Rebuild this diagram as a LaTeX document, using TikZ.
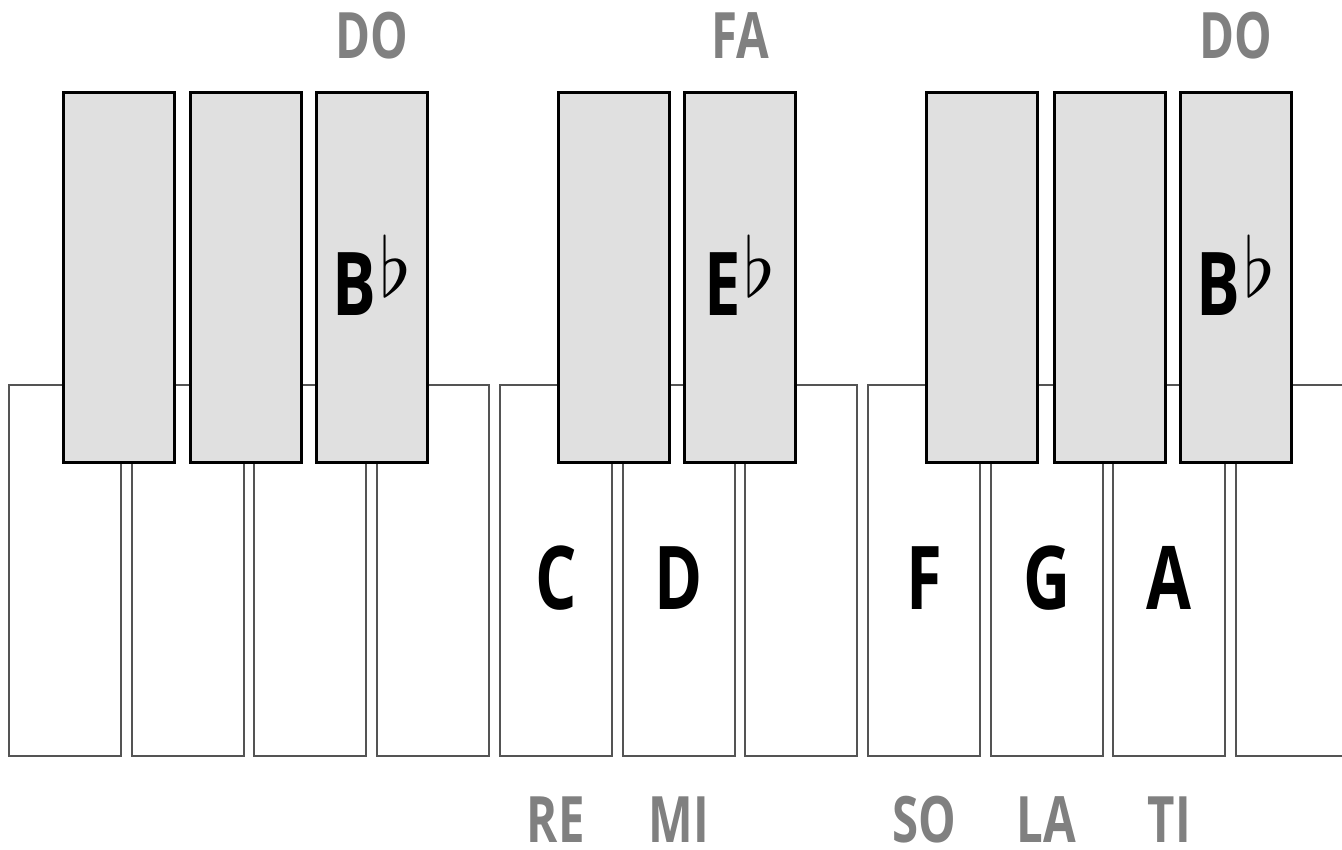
\documentclass[tikz,border=0pt]{standalone}
\usepackage{graphicx}
\usepackage{fontspec}
\setmainfont{Open Sans}[FakeStretch=0.74]
\usetikzlibrary{positioning}

\newcommand{\flatsign}{\hspace{3pt}\raisebox{19pt}{\scalebox{8.2}{\fontsize{10}{10}\selectfont$\flat$}}}

\begin{document}
\begin{tikzpicture}[
    x=1pt, y=-1pt,
    whitekey/.style={draw=black!67, line width=2pt, fill=white, rectangle, anchor=north west,
        minimum width=112pt, minimum height=371pt, inner sep=0pt},
    blackkey/.style={draw=black, line width=3pt, fill=black!12, rectangle, anchor=north west,
        minimum width=111pt, minimum height=370pt, inner sep=0pt},
    letter/.style={font=\fontsize{88}{88}\selectfont\bfseries, anchor=base, inner sep=0pt},
    solfa/.style={font=\fontsize{64}{64}\selectfont\bfseries, text=black!50, anchor=base, inner sep=0pt},
]

\useasboundingbox (0,0) rectangle (1342,850);

% White keys (the last one runs off the right edge)
\foreach \i in {1,...,11} {
    \node[whitekey] (w\i) at ({8+(\i-1)*122.7}, 384) {};
}

% Black keys, drawn on top
\foreach \i/\x in {1/62, 2/189, 3/315, 4/557, 5/683, 6/925, 7/1053, 8/1179} {
    \node[blackkey] (b\i) at (\x, 91) {};
}

% Flats on the black keys
\node[letter] (bflatL) at (b3.center |- 0,316) {B\flatsign};
\node[letter] (eflat)  at (b5.center |- 0,316) {E\flatsign};
\node[letter] (bflatR) at (b8.center |- 0,316) {B\flatsign};

% Letter names on the white keys
\node[letter] (c) at (w5.center |- 0,609) {C};
\node[letter] (d) at (w6.center |- 0,609) {D};
\node[letter] (f) at (w8.center |- 0,609) {F};
\node[letter] (g) at (w9.center |- 0,609) {G};
\node[letter] (a) at (w10.center |- 0,609) {A};

% Solfa above the black keys
\node[solfa] (doL) at (b3.center |- 0,59) {DO};
\node[solfa] (fa)  at (b5.center |- 0,59) {FA};
\node[solfa] (doR) at (b8.center |- 0,59) {DO};

% Solfa below the white keys
\node[solfa] (re) at (w5.center |- 0,842) {RE};
\node[solfa] (mi) at (w6.center |- 0,842) {MI};
\node[solfa] (so) at (w8.center |- 0,842) {SO};
\node[solfa] (la) at (w9.center |- 0,842) {LA};
\node[solfa] (ti) at (w10.center |- 0,842) {TI};

\end{tikzpicture}
\end{document}
